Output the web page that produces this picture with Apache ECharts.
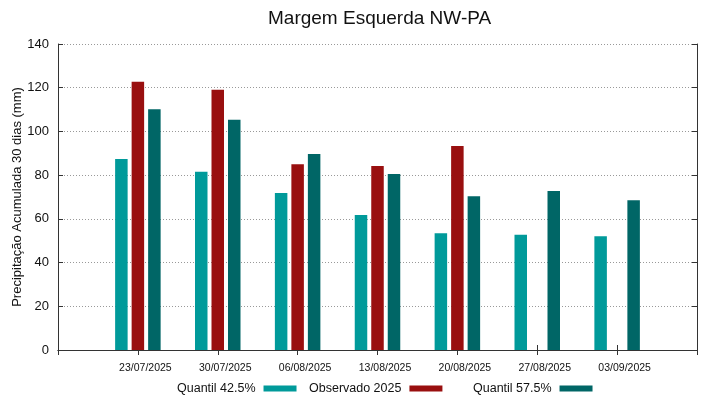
<!DOCTYPE html>
<html>
<head>
<meta charset="utf-8">
<script src="https://cdn.jsdelivr.net/npm/echarts@6/dist/echarts.min.js"></script>
<style>
  html, body { margin: 0; padding: 0; background: #fff; }
  #chart { width: 719px; height: 399px; }
</style>
</head>
<body>
<div id="chart"></div>
<script>
// datas (semanas)
var datas = ['23/07/2025', '30/07/2025', '06/08/2025', '13/08/2025', '20/08/2025', '27/08/2025', '03/09/2025'];
// valores (mm)
var quantil425 = [87.4, 81.6, 71.8, 61.8, 53.4, 52.7, 52.0];
var observado = [122.7, 119.1, 85.0, 84.2, 93.3, null, null];
var quantil575 = [110.1, 105.4, 89.7, 80.5, 70.3, 72.7, 68.5];
var yTicks = [0, 20, 40, 60, 80, 100, 120, 140];

// espaço vazio nas pontas do eixo (uma posição de cada lado)
function pad(arr) { return [null].concat(arr, [null]); }
var categorias = [''].concat(datas, ['']);

var fonte = 'Liberation Sans, Arial, sans-serif';
var chart = echarts.init(document.getElementById('chart'));

var option = {
    backgroundColor: '#fff',
    animation: false,
    textStyle: { fontFamily: fonte },
    title: {
        text: 'Margem Esquerda NW-PA',
        left: 263,
        top: 4,
        textStyle: { fontSize: 19, fontWeight: 'normal', color: '#111', fontFamily: fonte }
    },
    grid: { left: 58, right: 22, top: 44, bottom: 49, containLabel: false, outerBoundsMode: 'none' },
    legend: [
        { data: ['Quantil 42.5%'], left: 177, top: 382 },
        { data: ['Observado 2025'], left: 309, top: 382 },
        { data: ['Quantil 57.5%'], left: 473, top: 382 }
    ].map(function (l) {
        l.align = 'right';
        l.icon = 'rect';
        l.padding = 0;
        l.itemWidth = 33;
        l.itemHeight = 6;
        l.textStyle = { fontSize: 12.5, color: '#111', fontFamily: fonte, padding: [0, 3, 0, 0] };
        return l;
    }),
    xAxis: [{
        type: 'category',
        data: categorias,
        boundaryGap: false,
        axisLine: { lineStyle: { color: '#333' } },
        axisTick: { inside: true, length: 5, lineStyle: { color: '#333' } },
        axisLabel: { fontSize: 10.5, color: '#111', margin: 13, padding: [0, 0, 0, 15], interval: 0 },
        splitLine: { show: false }
    }, {
        type: 'category',
        data: categorias,
        position: 'top',
        boundaryGap: false,
        axisLine: { lineStyle: { color: '#333' } },
        axisTick: { inside: true, length: 5, lineStyle: { color: '#333' } },
        axisLabel: { show: false }
    }],
    yAxis: [{
        type: 'value',
        min: yTicks[0],
        max: yTicks[yTicks.length - 1],
        interval: 20,
        name: 'Precipitação Acumulada 30 dias (mm)',
        nameLocation: 'middle',
        nameGap: 34,
        nameMoveOverlap: false,
        nameTextStyle: { fontSize: 13, color: '#111', fontFamily: fonte },
        axisLine: { show: true, lineStyle: { color: '#333' } },
        axisTick: { show: true, inside: true, length: 5, lineStyle: { color: '#333' } },
        axisLabel: { fontSize: 13, color: '#111', margin: 9 },
        splitLine: { show: true, lineStyle: { color: '#999', type: [1, 2], width: 1 } }
    }, {
        type: 'value',
        position: 'right',
        min: yTicks[0],
        max: yTicks[yTicks.length - 1],
        interval: 20,
        axisLine: { show: true, lineStyle: { color: '#333' } },
        axisTick: { show: true, inside: true, length: 5, lineStyle: { color: '#333' } },
        axisLabel: { show: false },
        splitLine: { show: false }
    }],
    series: [
        { name: 'Quantil 42.5%', type: 'bar', data: pad(quantil425), barWidth: 12.5, barGap: '32%', itemStyle: { color: '#009a9a' } },
        { name: 'Observado 2025', type: 'bar', data: pad(observado), barWidth: 12.5, barGap: '32%', itemStyle: { color: '#990f0f' } },
        { name: 'Quantil 57.5%', type: 'bar', data: pad(quantil575), barWidth: 12.5, barGap: '32%', itemStyle: { color: '#006666' } }
    ]
};

chart.setOption(option);
</script>
</body>
</html>
